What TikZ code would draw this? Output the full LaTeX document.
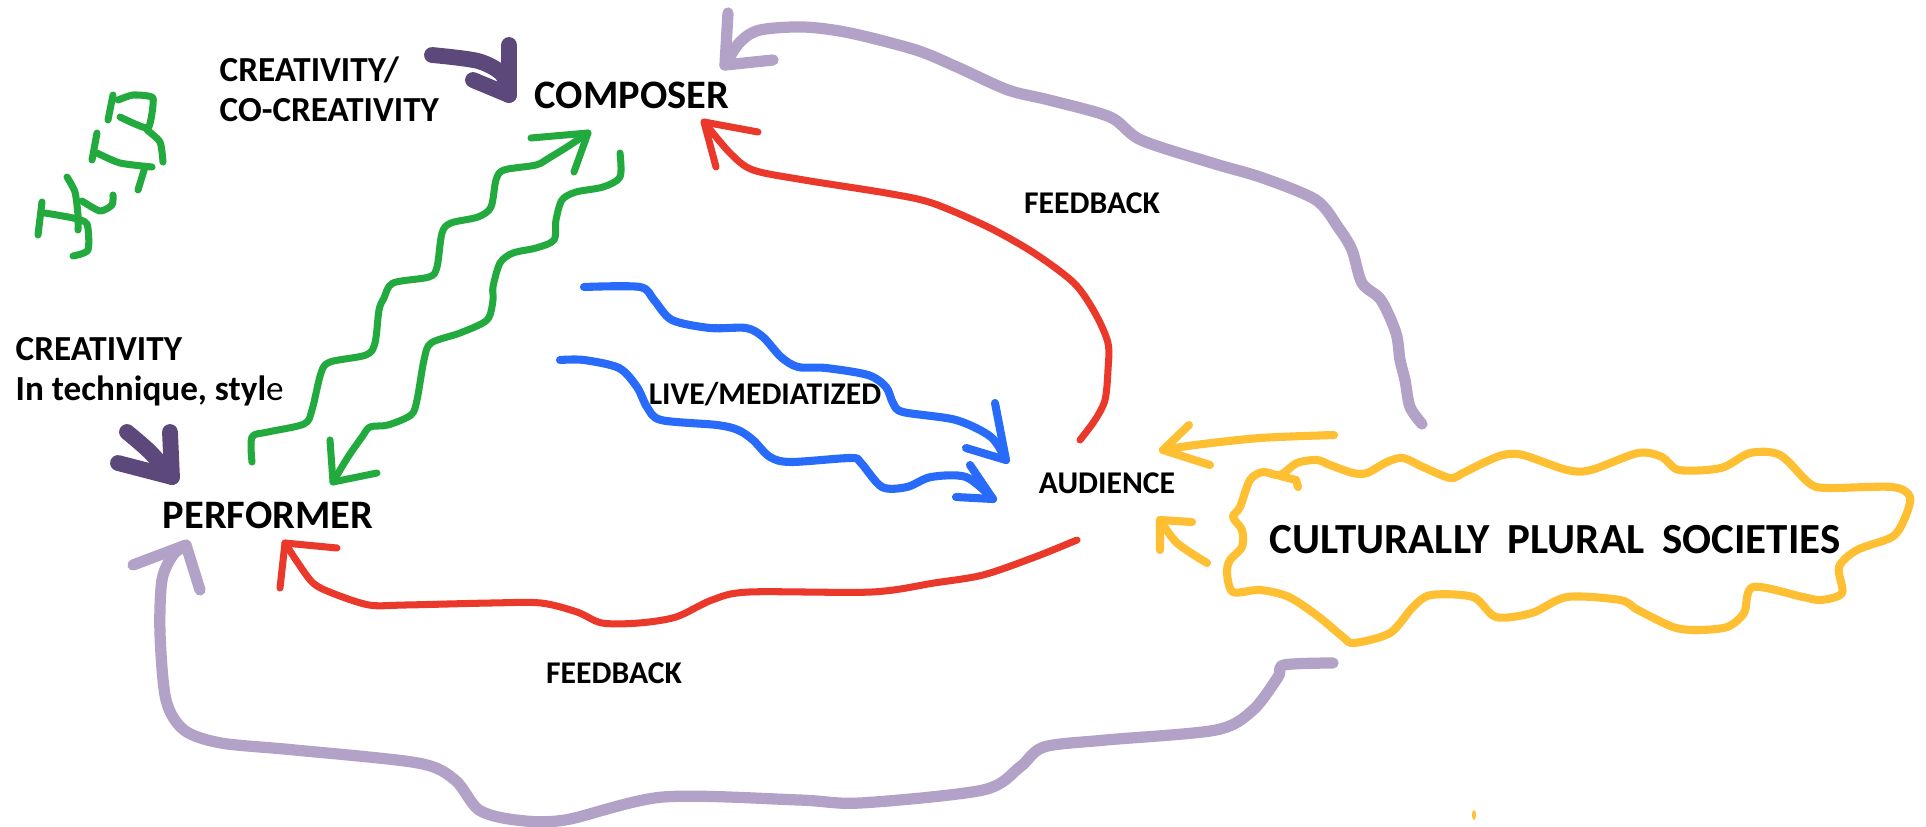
\documentclass[tikz,border=0pt]{standalone}
\usepackage{fontspec}
\setmainfont{Carlito}
\definecolor{penGreen}{RGB}{34,170,62}
\definecolor{penPlum}{RGB}{92,72,122}
\definecolor{penLilac}{RGB}{178,162,200}
\definecolor{penRed}{RGB}{234,56,42}
\definecolor{penBlue}{RGB}{40,106,250}
\definecolor{penGold}{RGB}{255,191,50}
\newcommand{\PEN}[5]{
  \draw[#1] plot[smooth,tension=0.5] coordinates {#2 #3};
  \draw[#1] #4 -- #3 -- #5;
}

\begin{document}
\begin{tikzpicture}[x=0.01cm,y=-0.01cm,line cap=round,line join=round,
  green pen/.style={penGreen,line width=2pt},
  plum pen/.style={penPlum,line width=4.5pt},
  lilac pen/.style={penLilac,line width=3.2pt},
  red pen/.style={penRed,line width=2pt},
  blue pen/.style={penBlue,line width=2.3pt},
  gold pen/.style={penGold,line width=2.3pt},
  big label/.style={font=\bfseries\fontsize{11.5}{13}\selectfont,inner sep=0pt},
  small label/.style={font=\bfseries\fontsize{9}{11}\selectfont,inner sep=0pt}]
  \useasboundingbox (0,0) rectangle (1926,827);

  \node[big label] (composer) at (632,95) {COMPOSER};
  \node[big label] (performer) at (268,515) {PERFORMER};
  \node[small label] (audience) at (1107,483) {AUDIENCE};
  \node[small label] (feedback top) at (1092,203) {FEEDBACK};
  \node[small label] (feedback bottom) at (614,673) {FEEDBACK};
  \node[small label] (live) at (765,394) {LIVE/MEDIATIZED};
  \node[small label,align=left,anchor=north west,font=\bfseries\fontsize{10}{11.4}\selectfont]
    (cocreativity) at (219,56) {CREATIVITY/\\CO-CREATIVITY};
  \node[small label,align=left,anchor=north west,font=\bfseries\fontsize{10}{11.4}\selectfont]
    (creativity) at (15,337) {CREATIVITY\\In technique, styl{\mdseries e}};
  \node[big label,font=\bfseries\fontsize{12.2}{14}\selectfont]
    (societies) at (1555,540) {CULTURALLY\hspace{0.2em} PLURAL\hspace{0.2em} SOCIETIES};

  % the squiggle
  \draw[green pen] (42,202) -- (38,235);
  \draw[green pen] plot[smooth,tension=0.4] coordinates {(45,213) (73,218) (87,224) (88,250) (73,256)};
  \draw[green pen] plot[smooth,tension=0.4] coordinates {(67,177) (75,192) (78,215) (78,230)};
  \draw[green pen] plot[smooth,tension=0.4] coordinates {(82,201) (100,211) (112,205) (113,195)};
  \draw[green pen] (97,133) -- (92,160);
  \draw[green pen] plot[smooth,tension=0.4] coordinates {(97,153) (120,163) (152,167)};
  \draw[green pen] (145,167) -- (138,190);
  \draw[green pen] (113,95) -- (108,120);
  \draw[green pen] plot[smooth,tension=0.3] coordinates {(118,100) (133,95) (153,98) (148,128) (120,117)};
  \draw[green pen] plot[smooth,tension=0.4] coordinates {(147,130) (160,142) (163,162)};

  % performer <-> composer
  \PEN{green pen}{(252,462) (252,437) (268,432) (304,424) (312,410) (321,373) (330,362) (366,355)
    (375,343) (379,310) (384,298) (393,283) (429,277) (437,267) (442,233) (451,223) (478,217)
    (491,207) (496,180) (504,170) (536,165) (549,158) (567,147)}{(588,133)}{(531,138)}{(574,172)}
  \PEN{green pen}{(620,153) (620,177) (603,187) (576,192) (562,200) (556,220) (554,240) (536,248)
    (513,253) (500,263) (493,287) (493,300) (487,320) (460,333) (431,343) (424,360) (417,400)
    (411,415) (388,425) (370,427) (362,437) (348,457)}{(333,482)}{(330,440)}{(377,473)}

  % creativity marks
  \PEN{plum pen}{(432,55) (478,61) (502,74)}{(509,95)}{(509,45)}{(473,80)}
  \PEN{plum pen}{(127,432) (150,452)}{(172,477)}{(170,432)}{(118,463)}

  % live / mediatized
  \PEN{blue pen}{(584,287) (640,287) (654,300) (672,320) (710,328) (746,328) (763,337) (781,357)
    (798,367) (826,368) (868,375) (886,387) (893,403) (903,412) (956,420) (991,437)}{(1006,460)}{(995,403)}{(966,448)}
  \PEN{blue pen}{(560,360) (584,360) (619,368) (637,387) (647,407) (661,420) (717,425) (738,430)
    (753,440) (770,457) (791,462) (851,458) (861,463) (882,487) (907,487) (931,477) (966,477)}{(993,499)}{(970,465)}{(956,497)}

  % feedback
  \PEN{red pen}{(1080,440) (1095,420) (1105,400) (1108,370) (1108,343) (1095,313) (1074,283)
    (1034,253) (988,227) (932,203) (886,193) (804,180) (753,170) (730,153)}{(704,122)}{(716,167)}{(758,132)}
  \PEN{red pen}{(1077,540) (1035,557) (983,575) (934,583) (872,592) (749,592) (712,600) (676,617)
    (639,623) (602,623) (577,612) (541,603) (491,603) (405,605) (369,605) (332,593) (313,583)
    (298,563)}{(285,543)}{(280,588)}{(337,548)}

  % societies
  \draw[gold pen] plot[smooth cycle,tension=0.5] coordinates {(1240,507) (1250,480) (1263,472)
    (1280,475) (1297,463) (1317,460) (1330,465) (1353,473) (1367,473) (1387,462) (1403,458)
    (1423,467) (1450,478) (1463,473) (1483,463) (1503,455) (1523,455) (1567,470) (1591,470)
    (1638,453) (1662,457) (1679,470) (1721,468) (1750,453) (1780,455) (1809,483) (1827,488)
    (1892,487) (1910,497) (1904,520) (1892,537) (1857,550) (1839,567) (1842,593) (1821,600)
    (1803,597) (1753,587) (1744,613) (1727,627) (1697,630) (1673,627) (1638,610) (1620,600)
    (1567,597) (1532,613) (1496,617) (1473,597) (1431,595) (1413,607) (1390,633) (1354,643)
    (1343,637) (1319,617) (1289,597) (1260,590) (1233,592) (1227,573) (1230,560) (1242,547)
    (1242,530) (1233,517)};
  \draw[gold pen] (1280,476) -- (1296,480) -- (1298,487);
  \PEN{gold pen}{(1334,435) (1260,438) (1195,445)}{(1163,450)}{(1189,425)}{(1210,465)}
  \PEN{gold pen}{(1207,563) (1177,543)}{(1160,520)}{(1160,550)}{(1192,522)}
  \fill[penGold] (1474,815) ellipse (2 and 5);

  \PEN{lilac pen}{(1422,424) (1410,407) (1405,380) (1400,360) (1396,333) (1381,300) (1362,283)
    (1352,250) (1338,227) (1316,200) (1263,178) (1212,163) (1141,140) (1110,117) (1049,100)
    (1008,90) (957,67) (916,50) (850,33) (804,27) (760,30) (740,42)}{(725,65)}{(728,13)}{(773,60)}
  \PEN{lilac pen}{(1333,663) (1284,665) (1278,677) (1253,710) (1216,730) (1106,740) (1044,747)
    (1020,767) (983,790) (860,803) (799,800) (663,797) (565,820) (516,820) (479,810) (455,780)
    (418,763) (295,750) (221,743) (184,730) (166,700) (160,633) (162,580) (173,555)}{(186,545)}{(133,565)}{(200,590)}
\end{tikzpicture}
\end{document}
